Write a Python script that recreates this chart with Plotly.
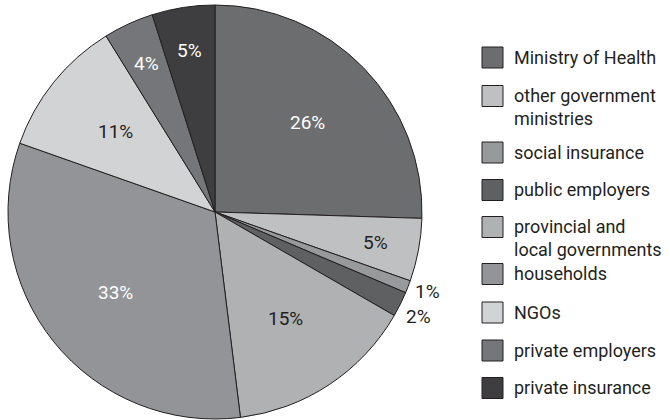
import math
import plotly.graph_objects as go

# slices, clockwise from 12 o'clock
labels = ["Ministry of Health", "other government<br>ministries", "social insurance",
          "public employers", "provincial and<br>local governments", "households",
          "NGOs", "private employers", "private insurance"]
shares = [26, 5, 1, 2, 15, 33, 11, 4, 5]

colors = ["#6c6d6f", "#bfc0c2", "#98999b", "#5f6062", "#b0b1b3",
          "#939497", "#d2d3d5", "#757679", "#3e3e40"]
text_colors = ["white", "#231f20", "#231f20", "#231f20", "#231f20",
               "white", "#231f20", "white", "white"]

FONT = "Roboto, Liberation Sans, sans-serif"
INK = "#231f20"
W, H = 670, 420

# pie box in pixels
CX, CY, R = 215, 212, 207

fig = go.Figure()

fig.add_trace(go.Pie(
    labels=labels,
    values=shares,
    sort=False,
    direction="clockwise",
    rotation=0,
    marker=dict(colors=colors, line=dict(color=INK, width=1)),
    textinfo="none",
    domain=dict(x=[(CX - R) / W, (CX + R) / W], y=[1 - (CY + R) / H, 1 - (CY - R) / H]),
    showlegend=False,
    hoverinfo="label+percent",
))

# percentage labels at the middle angle of each slice
total = sum(shares)
cum = 0
placed = []
for v, tc in zip(shares, text_colors):
    mid = (cum + v / 2) / total * 2 * math.pi
    cum += v
    if v >= 10:
        f = 0.62
    elif v >= 3:
        f = 0.79
    else:
        f = 1.10
        tc = INK
    px = CX + R * f * math.sin(mid)
    py = CY - R * f * math.cos(mid)
    placed.append([v, px, py, tc, f > 1])

# spread the outside labels apart so they don't collide
outs = [p for p in placed if p[4]]
for a, b in zip(outs, outs[1:]):
    gap = 25
    if abs(b[2] - a[2]) < gap:
        m = (a[2] + b[2]) / 2
        a[2], b[2] = m - gap / 2, m + gap / 2

for v, px, py, tc, _ in placed:
    fig.add_annotation(xref="paper", yref="paper", x=px / W, y=1 - py / H,
                       xanchor="center", yanchor="middle", showarrow=False,
                       text=f"{v}%", font=dict(family=FONT, size=19, color=tc))

# hand-drawn legend (bigger swatches and wider spacing than plotly's own)
row_y = [57.5, 96, 152.5, 190, 227, 274, 312.5, 350.5, 388]
sw_x0, sw_x1, sw_h = 482, 503, 21
for name, col, yc in zip(labels, colors, row_y):
    fig.add_shape(type="rect", xref="paper", yref="paper",
                  x0=sw_x0 / W, x1=sw_x1 / W,
                  y0=1 - (yc + sw_h / 2) / H, y1=1 - (yc - sw_h / 2) / H,
                  fillcolor=col, line=dict(color=INK, width=1))
    fig.add_annotation(xref="paper", yref="paper",
                       x=512 / W, y=1 - (yc - 12.7) / H,
                       xanchor="left", yanchor="top", align="left",
                       text=name, showarrow=False,
                       font=dict(family=FONT, size=18, color=INK))

fig.update_layout(
    width=W, height=H,
    margin=dict(l=0, r=0, t=0, b=0),
    paper_bgcolor="white",
    plot_bgcolor="white",
    showlegend=False,
)

fig.write_html("out.html", config={"displayModeBar": False},
               post_script="document.body.style.margin='0';")
